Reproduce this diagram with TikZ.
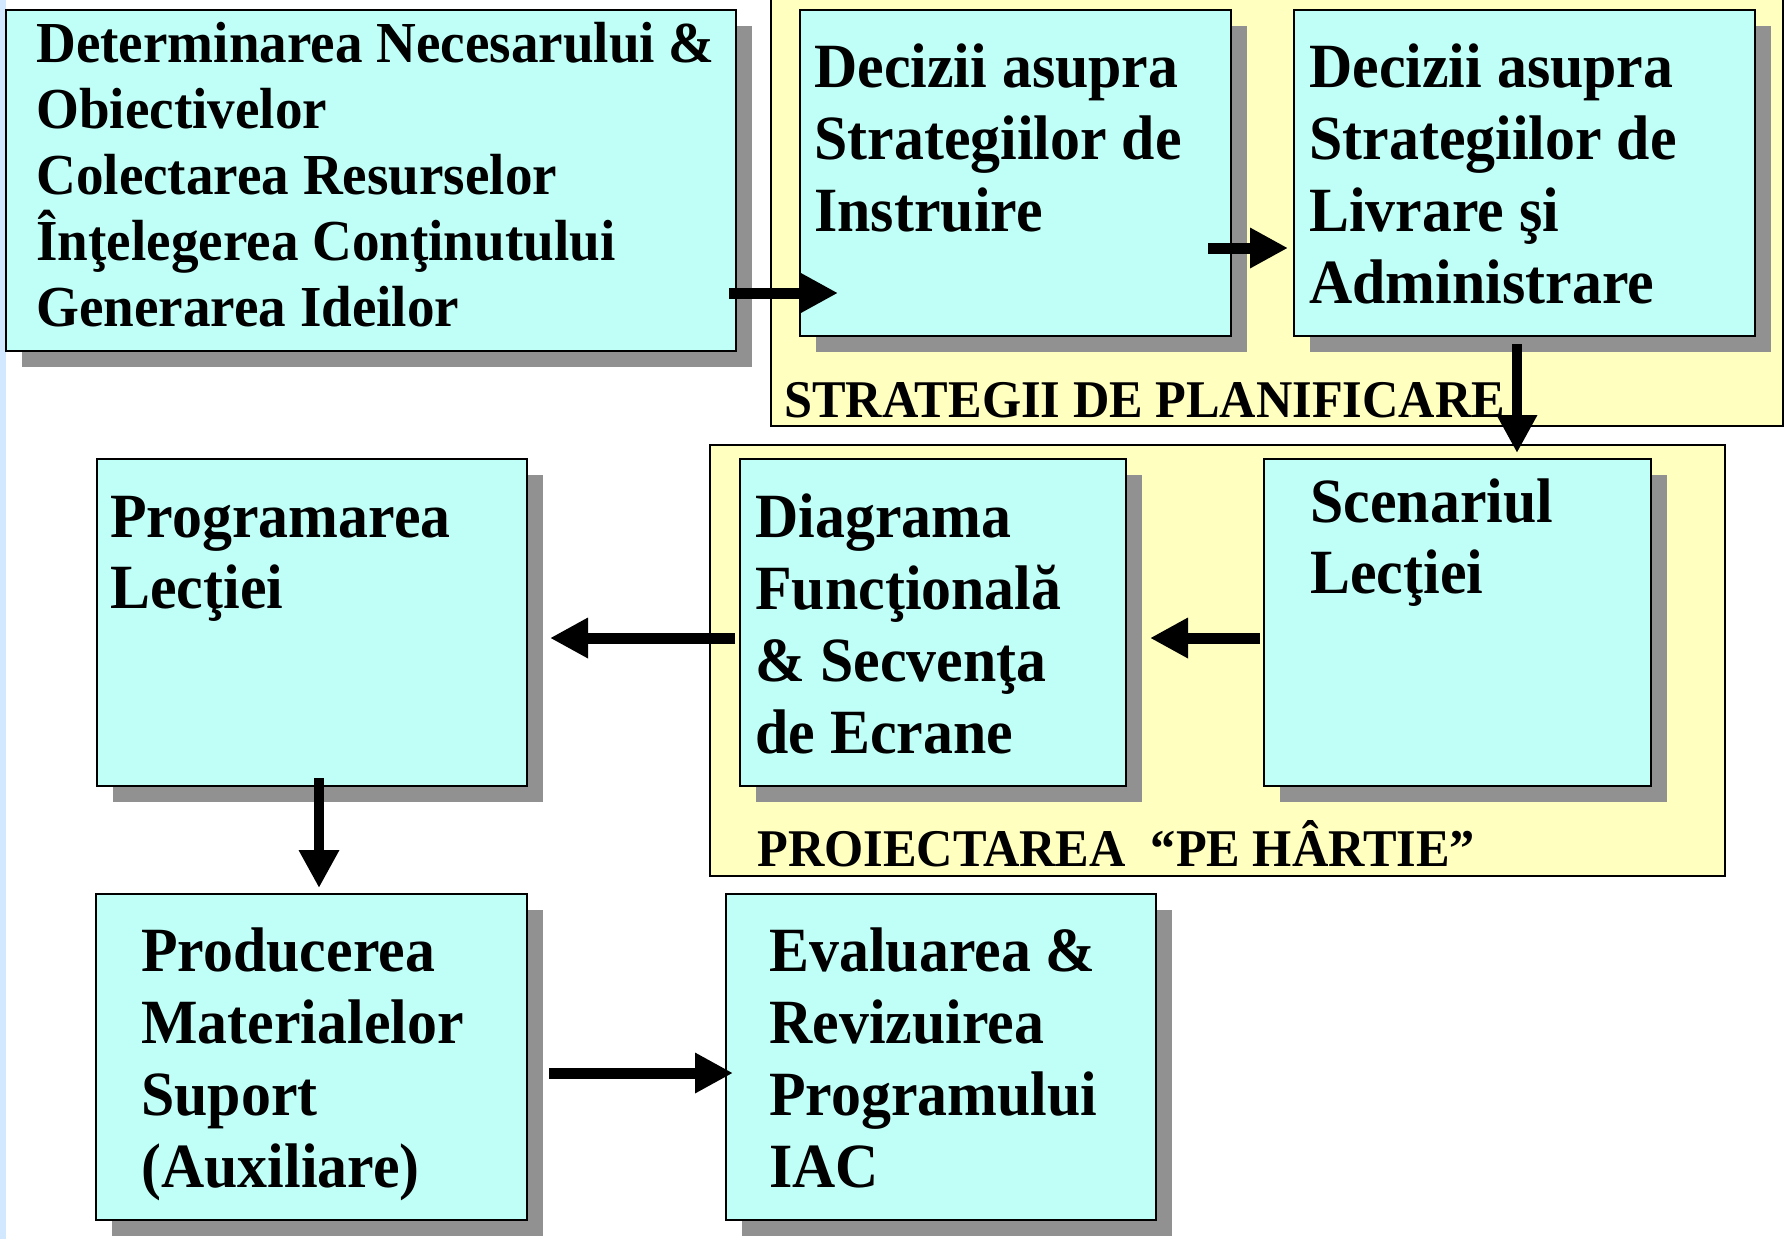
\documentclass[tikz,border=0pt]{standalone}
\usepackage{fontspec}
\setmainfont{Liberation Serif}[FakeStretch=0.95]
\usetikzlibrary{arrows.meta,fit,shadows}
\definecolor{cy}{RGB}{192,255,248}
\definecolor{yel}{RGB}{255,255,192}
\definecolor{shd}{RGB}{145,145,145}
\definecolor{strip}{RGB}{210,232,255}
\newcommand{\mlines}[1]{\vtop{\lineskiplimit=-100pt\halign{##\hfil\cr#1\crcr}}}
\begin{document}
\begin{tikzpicture}[x=0.5pt,y=-0.5pt,
  box/.style={draw=black, line width=1.2pt, fill=cy, inner sep=0pt,
    drop shadow={shadow xshift=8pt,shadow yshift=-8pt,fill=shd,opacity=1}},
  grp/.style={draw=black, line width=1.2pt, fill=yel, inner sep=0pt},
  lbl/.style={anchor=base west, inner sep=0pt, font=\bfseries},
  blk/.style={line width=5.5pt, -{Triangle[length=19pt,width=19pt]}},
  blkv/.style={line width=5pt, -{Triangle[length=19pt,width=19pt]}},
]
\clip (0,0) rectangle (1785,1239);
\fill[strip] (0,0) rectangle (6,1239);
% groups
\node[grp, fit={(771,-10)(1783,426)}] (g1) {};
\node[grp, fit={(710,445)(1725,876)}] (g2) {};
% boxes
\node[box, fit={(6,10)(736,351)}] (b1) {};
\node[box, fit={(800,10)(1231,336)}] (b2) {};
\node[box, fit={(1294,10)(1755,336)}] (b3) {};
\node[box, fit={(97,459)(527,786)}] (b4) {};
\node[box, fit={(740,459)(1126,786)}] (b5) {};
\node[box, fit={(1264,459)(1651,786)}] (b6) {};
\node[box, fit={(96,894)(527,1220)}] (b7) {};
\node[box, fit={(726,894)(1156,1220)}] (b8) {};
% texts
\node[lbl] (t1) at (36,62) {\fontsize{29}{33}\selectfont\mlines{Determinarea Necesarului \&\cr Obiectivelor\cr Colectarea Resurselor\cr Înţelegerea Conţinutului\cr Generarea Ideilor}};
\node[lbl] (t2) at (814,87) {\fontsize{31.5}{36}\selectfont\mlines{Decizii asupra\cr Strategiilor de\cr Instruire}};
\node[lbl] (t3) at (1309,87) {\fontsize{31.5}{36}\selectfont\mlines{Decizii asupra\cr Strategiilor de\cr Livrare şi\cr Administrare}};
\node[lbl] (l1) at (784,417) {\fontsize{26.5}{30}\selectfont STRATEGII DE PLANIFICARE};
\node[lbl] (t4) at (110,537) {\fontsize{31.5}{35.5}\selectfont\mlines{Programarea\cr Lecţiei}};
\node[lbl] (t5) at (755,537) {\fontsize{31.5}{36}\selectfont\mlines{Diagrama\cr Funcţională\cr \& Secvenţa\cr de Ecrane}};
\node[lbl] (t6) at (1310,522) {\fontsize{31.5}{35.5}\selectfont\mlines{Scenariul\cr Lecţiei}};
\node[lbl] (l2) at (757,866) {\fontsize{26.5}{30}\selectfont PROIECTAREA\ \ “PE HÂRTIE”};
\node[lbl] (t7) at (141,971) {\fontsize{31.5}{36}\selectfont\mlines{Producerea\cr Materialelor\cr Suport\cr (Auxiliare)}};
\node[lbl] (t8) at (769,971) {\fontsize{31.5}{36}\selectfont\mlines{Evaluarea \&\cr Revizuirea\cr Programului\cr IAC}};
% arrow end points
\coordinate (a1s) at (729,293); \coordinate (a1e) at (838,293);
\coordinate (a2s) at (1208,248); \coordinate (a2e) at (1288,248);
\coordinate (a3s) at (1517,344); \coordinate (a3e) at (1517,453);
\coordinate (a4s) at (1260,638); \coordinate (a4e) at (1150,638);
\coordinate (a5s) at (735,638); \coordinate (a5e) at (550,638);
\coordinate (a6s) at (319,778); \coordinate (a6e) at (319,888);
\coordinate (a7s) at (549,1073); \coordinate (a7e) at (733,1073);
\draw[blk] (a1s) -- (a1e);
\draw[blk] (a2s) -- (a2e);
\draw[blkv] (a3s) -- (a3e);
\draw[blk] (a4s) -- (a4e);
\draw[blk] (a5s) -- (a5e);
\draw[blkv] (a6s) -- (a6e);
\draw[blk] (a7s) -- (a7e);
\end{tikzpicture}
\end{document}
